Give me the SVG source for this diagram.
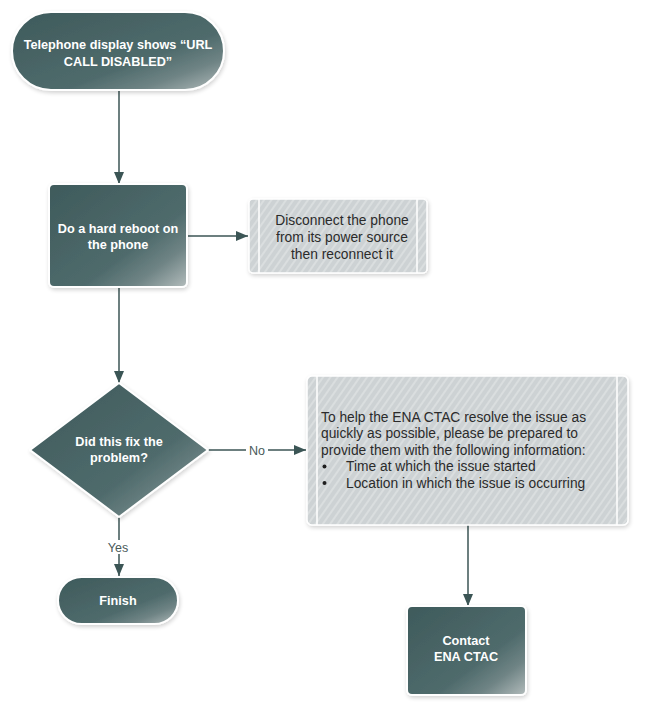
<svg xmlns="http://www.w3.org/2000/svg" width="646" height="714" viewBox="0 0 646 714">
  <defs>
    <linearGradient id="teal" x1="0" y1="0" x2="1" y2="1">
      <stop offset="0" stop-color="#3e5a5b"/>
      <stop offset="0.62" stop-color="#4f6b6c"/>
      <stop offset="0.8" stop-color="#6f8485"/>
      <stop offset="1" stop-color="#b3bcbc"/>
    </linearGradient>
    <pattern id="hatch" width="6" height="6" patternUnits="userSpaceOnUse" patternTransform="rotate(35)">
      <rect width="6" height="6" fill="#cdd2d4"/>
      <rect width="2" height="6" fill="#dadedf"/>
    </pattern>
    <filter id="glow" x="-10%" y="-10%" width="120%" height="125%">
      <feGaussianBlur in="SourceAlpha" stdDeviation="2"/>
      <feOffset dx="1" dy="2"/>
      <feComponentTransfer><feFuncA type="linear" slope="0.18"/></feComponentTransfer>
      <feMerge><feMergeNode/><feMergeNode in="SourceGraphic"/></feMerge>
    </filter>
    <marker id="arrow" viewBox="0 0 12 10" refX="12" refY="5" markerWidth="12" markerHeight="10" markerUnits="userSpaceOnUse" orient="auto">
      <path d="M0,0 L12,5 L0,10 Z" fill="#3b5555"/>
    </marker>
  </defs>
  <style>
    .dark { fill: url(#teal); stroke: #ffffff; stroke-width: 2; filter: url(#glow); }
    .note { fill: url(#hatch); stroke: #ffffff; stroke-width: 1.5; filter: url(#glow); }
    .rule { stroke: #ffffff; stroke-width: 1.5; }
    .lbl { font-family: "Liberation Sans", Arial, sans-serif; font-size: 12.7px; font-weight: bold; fill: #ffffff; text-anchor: middle; }
    .txt { font-family: "Liberation Sans", Arial, sans-serif; font-size: 13.8px; fill: #2b2b2b; }
    .mid { text-anchor: middle; }
    .edge { stroke: #3b5555; stroke-width: 1.5; fill: none; marker-end: url(#arrow); }
    .elbl { font-family: "Liberation Sans", Arial, sans-serif; font-size: 12.5px; fill: #4a5a5a; text-anchor: middle; }
  </style>

  <!-- connectors -->
  <g id="connectors">
    <path class="edge" d="M119,90 V184"/>
    <path class="edge" d="M187,236 H248"/>
    <path class="edge" d="M119,287 V383"/>
    <path class="edge" d="M208,450 H306"/>
    <rect x="246" y="443" width="22" height="14" fill="#ffffff"/>
    <text class="elbl" x="257" y="454.5">No</text>
    <path class="edge" d="M119,517 V576"/>
    <rect x="104" y="540" width="30" height="14" fill="#ffffff"/>
    <text class="elbl" x="118" y="551.5">Yes</text>
    <path class="edge" d="M468,525 V606"/>
  </g>

  <g id="start">
    <rect class="dark" x="12" y="12" width="212" height="78" rx="39" ry="39"/>
    <text class="lbl" x="118" y="49">Telephone display shows “URL</text>
    <text class="lbl" x="118" y="66">CALL DISABLED”</text>
  </g>

  <g id="reboot">
    <rect class="dark" x="49" y="184" width="138" height="103" rx="5" ry="5"/>
    <text class="lbl" x="118" y="233">Do a hard reboot on</text>
    <text class="lbl" x="118" y="249">the phone</text>
  </g>

  <g id="reboot-note">
    <rect class="note" x="249" y="199" width="178" height="74" rx="4" ry="4"/>
    <line class="rule" x1="259" y1="199" x2="259" y2="273"/>
    <line class="rule" x1="417" y1="199" x2="417" y2="273"/>
    <text class="txt mid" x="342" y="224.5">Disconnect the phone</text>
    <text class="txt mid" x="342" y="241.5">from its power source</text>
    <text class="txt mid" x="342" y="258.5">then reconnect it</text>
  </g>

  <g id="decision">
    <path class="dark" d="M119,383 L208,450 L119,517 L30,450 Z" stroke-linejoin="round"/>
    <text class="lbl" x="119" y="446">Did this fix the</text>
    <text class="lbl" x="119" y="462">problem?</text>
  </g>

  <g id="info-note">
    <rect class="note" x="307" y="376" width="321" height="149" rx="5" ry="5"/>
    <line class="rule" x1="317" y1="376" x2="317" y2="525"/>
    <line class="rule" x1="617" y1="376" x2="617" y2="525"/>
    <text class="txt" x="321" y="421.5">To help the ENA CTAC resolve the issue as</text>
    <text class="txt" x="321" y="438">quickly as possible, please be prepared to</text>
    <text class="txt" x="321" y="454.5">provide them with the following information:</text>
    <circle cx="324.5" cy="466.5" r="2" fill="#1e1e1e"/>
    <text class="txt" x="346" y="471">Time at which the issue started</text>
    <circle cx="324.5" cy="483" r="2" fill="#1e1e1e"/>
    <text class="txt" x="346" y="487.5">Location in which the issue is occurring</text>
  </g>

  <g id="finish">
    <rect class="dark" x="58" y="577" width="120" height="47" rx="23.5" ry="23.5"/>
    <text class="lbl" x="118" y="604.5">Finish</text>
  </g>

  <g id="contact">
    <rect class="dark" x="407" y="606" width="119" height="89" rx="5" ry="5"/>
    <text class="lbl" x="466" y="645">Contact</text>
    <text class="lbl" x="466" y="661">ENA CTAC</text>
  </g>
</svg>
